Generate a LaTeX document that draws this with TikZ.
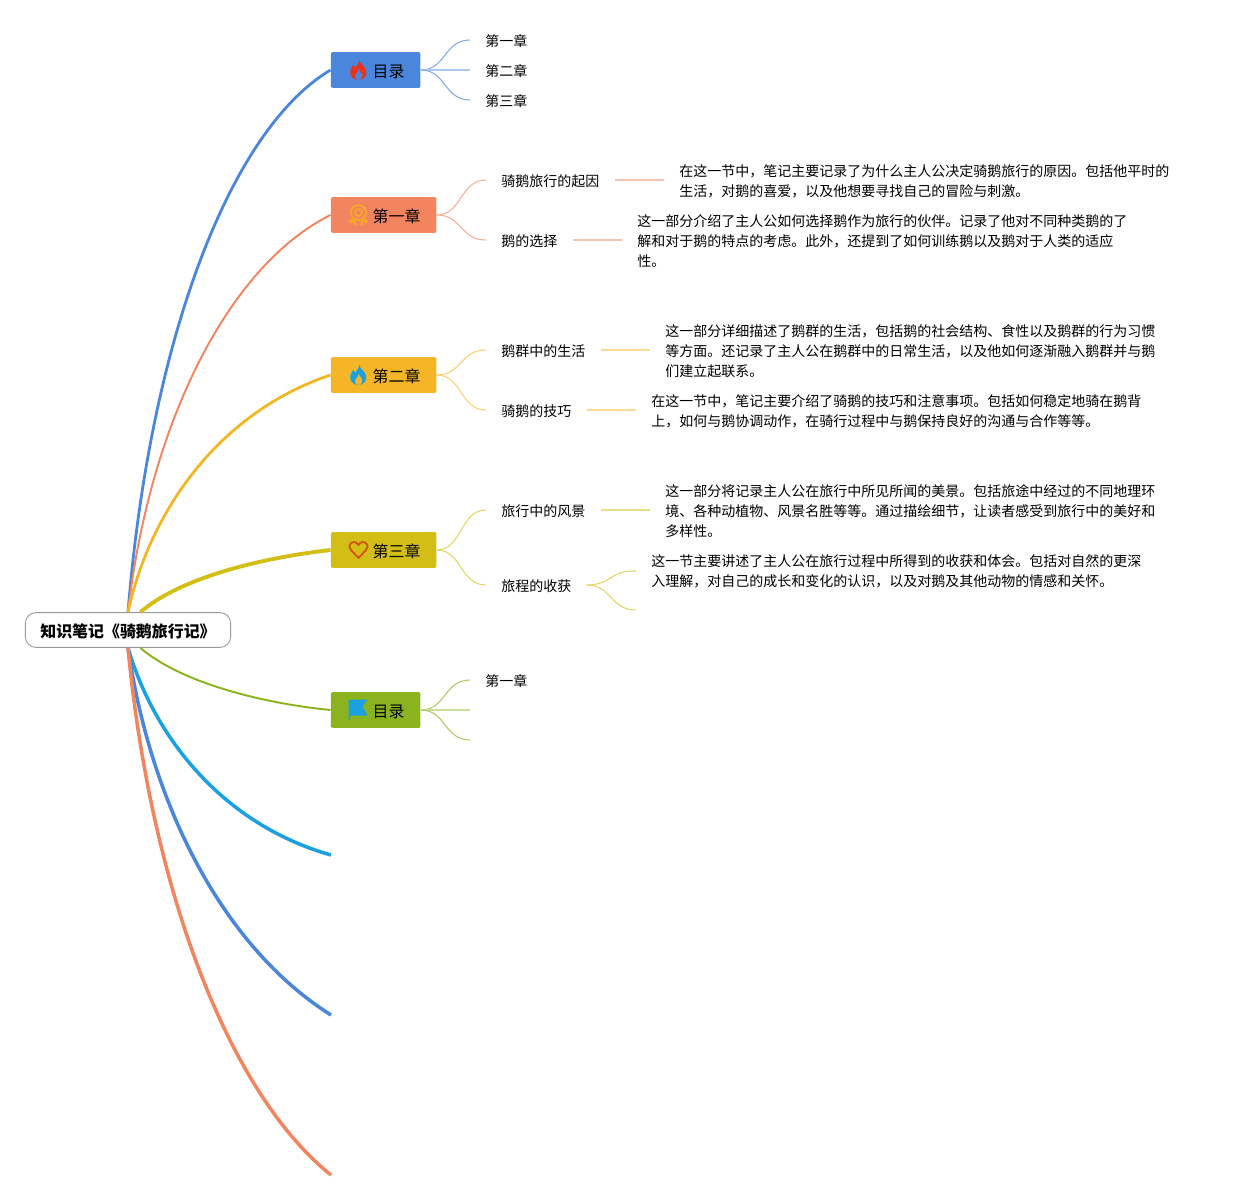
\documentclass[tikz,border=0pt]{standalone}
\usepackage{fontspec}
\setmainfont{Noto Sans CJK SC}
\usetikzlibrary{calc}
\definecolor{bluebr}{HTML}{4A86DC}
\definecolor{salmonbr}{HTML}{F2855F}
\definecolor{amberbr}{HTML}{F4B626}
\definecolor{goldbr}{HTML}{D3BE15}
\definecolor{greenbr}{HTML}{8AB31E}
\definecolor{skybr}{HTML}{1BA1E2}
\definecolor{flamered}{HTML}{E8321A}
\definecolor{medalorange}{HTML}{F7A823}
\definecolor{heartred}{HTML}{CF4F0C}
\tikzset{
  rootbox/.style={draw=black!40,line width=0.5pt,fill=white,rounded corners=6pt,minimum width=116.8pt,minimum height=19.8pt,inner sep=0pt,text height=9.1pt,text depth=1.1pt,font=\fontsize{9.07pt}{11pt}\selectfont\bfseries},
  chapbox/.style={fill=#1,rounded corners=1.2pt,anchor=west,minimum height=20.4pt,inner xsep=9.07pt,inner ysep=0pt,text height=9.1pt,text depth=1.1pt,font=\fontsize{9.07pt}{11pt}\selectfont},
  topic/.style={anchor=west,inner xsep=8.5pt,inner ysep=0pt,text height=8.1pt,text depth=1pt,font=\fontsize{7.97pt}{11.34pt}\selectfont},
  detail/.style={anchor=west,inner xsep=8.5pt,inner ysep=0pt,align=left,font=\fontsize{7.97pt}{11.34pt}\selectfont},
  mainline/.style={line width=#1},
  subline/.style={#1,line width=0.6pt},
  pics/flame/.style 2 args={code={
    \fill[#1] (1,-10) .. controls (1.5,-6) and (5,-5) .. (7,-1) .. controls (9.5,4) and (6,10) .. (0,10)
      .. controls (-6,10) and (-9.5,5) .. (-8,0) .. controls (-7.5,-2) and (-6,-3) .. (-5.5,-5)
      .. controls (-4,-4) and (-3.5,-3) .. (-3.5,-2) .. controls (-2,-4) and (0,-6) .. (1,-10) -- cycle;
    \fill[#2] (0,10) .. controls (-3.5,10) and (-4.5,6) .. (-2.5,4) .. controls (-1,2.5) and (-0.5,1) .. (0,-1)
      .. controls (1,1) and (4.5,4) .. (3.5,7) .. controls (3,9) and (1.5,10) .. (0,10) -- cycle;
  }},
  pics/medal/.style={code={
    \draw[#1,line width=1pt] (0,-2.5) circle (7.5);
    \draw[#1,line width=1pt] (0,-2.5) circle (3.5);
    \fill[#1] (-7,6) circle (2.2) (7,6) circle (2.2) (-3.5,9) circle (1.6) (3.5,9) circle (1.6);
    \draw[#1,line width=1pt] (-4,4.5) -- (-3.5,8) (4,4.5) -- (3.5,8);
  }},
  pics/heart/.style={code={
    \draw[#1,line width=1pt,line join=round] (0,8) -- (-7.5,0) .. controls (-11,-4) and (-8,-8) .. (-4.5,-8)
      .. controls (-2.5,-8) and (-1,-7) .. (0,-5) .. controls (1,-7) and (2.5,-8) .. (4.5,-8)
      .. controls (8,-8) and (11,-4) .. (7.5,0) -- cycle;
  }},
  pics/flag/.style={code={
    \fill[#1] (-10,-10) -- (9,-10) -- (4,-3) -- (9,6) -- (-8.5,6) -- (-8.5,10) -- (-10,10) -- cycle;
  }}
}
\begin{document}
\begin{tikzpicture}[x=0.02cm,y=-0.02cm]
  \useasboundingbox (0,0) rectangle (1239,1200);
  % centre
  \node[rootbox] (root) at (128,630) {知识笔记《骑鹅旅行记》};
  % chapters
  \node[chapbox=bluebr] (mulu) at (330.5,70) {\hspace*{14.74pt}目录};
  \node[chapbox=salmonbr] (chone) at (330.5,215) {\hspace*{14.74pt}第一章};
  \node[chapbox=amberbr] (chtwo) at (330.5,375) {\hspace*{14.74pt}第二章};
  \node[chapbox=goldbr] (chthree) at (330.5,550) {\hspace*{14.74pt}第三章};
  \node[chapbox=greenbr] (mulub) at (330.5,710) {\hspace*{14.74pt}目录};
  \coordinate (endsky) at (331,855);
  \coordinate (endblue) at (331,1015);
  \coordinate (endsalmon) at (331,1175);
  \pic at (358.5,70) {flame={flamered}{bluebr}};
  \pic at (358.5,215) {medal=medalorange};
  \pic at (358.5,375) {flame={skybr}{amberbr}};
  \pic at (358.5,550) {heart=heartred};
  \pic at (358.5,709.5) {flag=skybr};
  % main branches
  \draw[bluebr,mainline=1.6pt] (root.north) .. controls (150,340) and (230,130) .. (mulu.west);
  \draw[salmonbr,mainline=1.1pt] (root.north) .. controls (150,420) and (230,265) .. (chone.west);
  \draw[amberbr!90!goldbr,mainline=1.6pt] (root.north) .. controls (150,510) and (220,412) .. (chtwo.west);
  \draw[goldbr,mainline=2.2pt] ([xshift=7pt]root.north) .. controls (180,578) and (260,558) .. (chthree.west);
  \draw[greenbr,mainline=1.1pt] ([xshift=7pt]root.south) .. controls (180,682) and (260,703) .. (mulub.west);
  \draw[skybr,mainline=2pt] (root.south) .. controls (155,740) and (225,825) .. (endsky);
  \draw[bluebr,mainline=2pt] (root.south) .. controls (150,800) and (220,945) .. (endblue);
  \draw[salmonbr,mainline=2pt] (root.south) .. controls (150,880) and (225,1090) .. (endsalmon);
  % first list
  \node[topic] (ma) at (470,40) {第一章};
  \node[topic] (mb) at (470,70) {第二章};
  \node[topic] (mc) at (470,100) {第三章};
  \draw[subline=bluebr!70] (mulu.east) .. controls (446,70) and (444,40) .. (ma.west);
  \draw[subline=bluebr!45] (mulu.east) -- (mb.west);
  \draw[subline=bluebr!70] (mulu.east) .. controls (446,70) and (444,100) .. (mc.west);
  % chapter one
  \node[topic] (qa) at (486,180) {骑鹅旅行的起因};
  \node[topic] (qb) at (486,240) {鹅的选择};
  \node[detail] (da) at (664,181) {在这一节中，笔记主要记录了为什么主人公决定骑鹅旅行的原因。包括他平时的\\生活，对鹅的喜爱，以及他想要寻找自己的冒险与刺激。};
  \node[detail] (db) at (622,241) {这一部分介绍了主人公如何选择鹅作为旅行的伙伴。记录了他对不同种类鹅的了\\解和对于鹅的特点的考虑。此外，还提到了如何训练鹅以及鹅对于人类的适应\\性。};
  \draw[subline=salmonbr!65] (chone.east) .. controls (462,215) and (460,180) .. (qa.west);
  \draw[subline=salmonbr!65] (chone.east) .. controls (462,215) and (460,240) .. (qb.west);
  \draw[subline=salmonbr!50] (qa.east) -- (qa.east -| da.west);
  \draw[subline=salmonbr!50] (qb.east) -- (qb.east -| db.west);
  % chapter two
  \node[topic] (qc) at (486,350) {鹅群中的生活};
  \node[topic] (qd) at (486,410) {骑鹅的技巧};
  \node[detail] (dc) at (650,351) {这一部分详细描述了鹅群的生活，包括鹅的社会结构、食性以及鹅群的行为习惯\\等方面。还记录了主人公在鹅群中的日常生活，以及他如何逐渐融入鹅群并与鹅\\们建立起联系。};
  \node[detail] (dd) at (636,411) {在这一节中，笔记主要介绍了骑鹅的技巧和注意事项。包括如何稳定地骑在鹅背\\上，如何与鹅协调动作，在骑行过程中与鹅保持良好的沟通与合作等等。};
  \draw[subline=amberbr!65] (chtwo.east) .. controls (462,375) and (460,350) .. (qc.west);
  \draw[subline=amberbr!65] (chtwo.east) .. controls (462,375) and (460,410) .. (qd.west);
  \draw[subline=amberbr!50] (qc.east) -- (qc.east -| dc.west);
  \draw[subline=amberbr!50] (qd.east) -- (qd.east -| dd.west);
  % chapter three
  \node[topic] (qe) at (486,510) {旅行中的风景};
  \node[topic] (qf) at (486,585) {旅程的收获};
  \node[detail] (de) at (650,511) {这一部分将记录主人公在旅行中所见所闻的美景。包括旅途中经过的不同地理环\\境、各种动植物、风景名胜等等。通过描绘细节，让读者感受到旅行中的美好和\\多样性。};
  \node[detail] (df) at (636,571) {这一节主要讲述了主人公在旅行过程中所得到的收获和体会。包括对自然的更深\\入理解，对自己的成长和变化的认识，以及对鹅及其他动物的情感和关怀。};
  \coordinate (dfend) at (636,610);
  \draw[subline=goldbr!65] (chthree.east) .. controls (462,550) and (460,510) .. (qe.west);
  \draw[subline=goldbr!65] (chthree.east) .. controls (462,550) and (460,585) .. (qf.west);
  \draw[subline=goldbr!50] (qe.east) -- (qe.east -| de.west);
  \draw[subline=goldbr!65] (qf.east) .. controls (612,585) and (610,570) .. (df.west);
  \draw[subline=goldbr!65] (qf.east) .. controls (612,585) and (610,610) .. (dfend);
  % second list
  \node[topic] (mk) at (470,680) {第一章};
  \coordinate (mlend) at (470,710);
  \coordinate (mmend) at (470,740);
  \draw[subline=greenbr!70] (mulub.east) .. controls (446,710) and (444,680) .. (mk.west);
  \draw[subline=greenbr!45] (mulub.east) -- (mlend);
  \draw[subline=greenbr!70] (mulub.east) .. controls (446,710) and (444,740) .. (mmend);
\end{tikzpicture}
\end{document}
